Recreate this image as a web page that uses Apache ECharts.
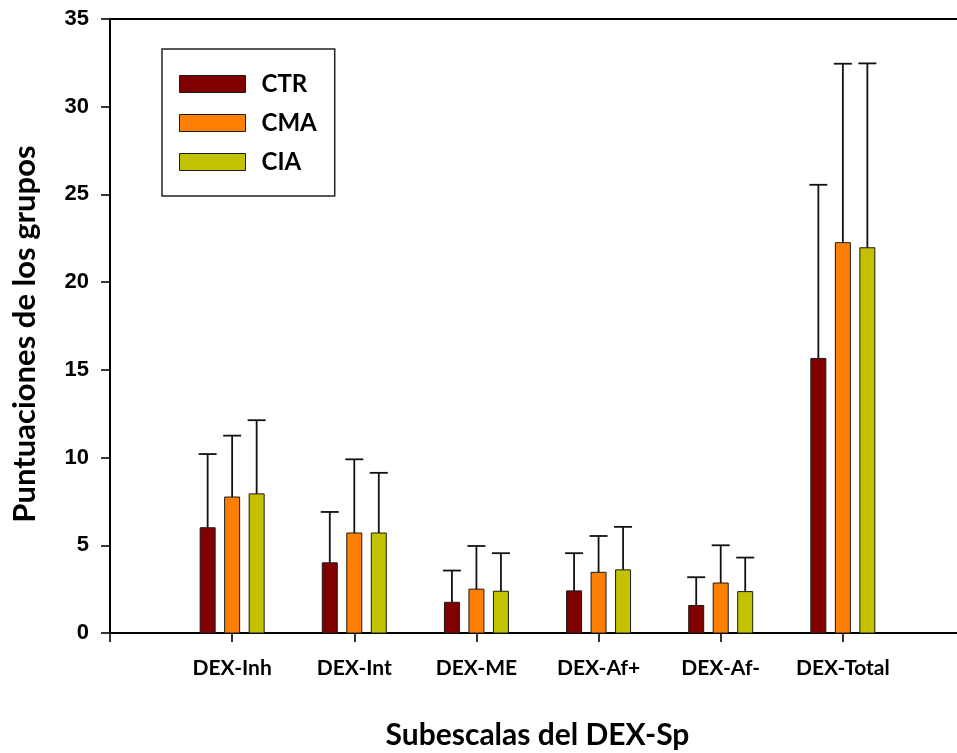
<!DOCTYPE html>
<html>
<head>
<meta charset="utf-8">
<script src="https://cdn.jsdelivr.net/npm/echarts@6/dist/echarts.min.js"></script>
<style>
  html, body { margin: 0; padding: 0; background: #fff; }
  #chart { width: 957px; height: 753px; }
</style>
</head>
<body>
<div id="chart"></div>
<script>
// DEX-Sp subscales: group means and standard deviations
const categories = ['DEX-Inh', 'DEX-Int', 'DEX-ME', 'DEX-Af+', 'DEX-Af-', 'DEX-Total'];
const groups = ['CTR', 'CMA', 'CIA'];

const ctrMean = [6.0, 4.0, 1.75, 2.4, 1.57, 15.65];
const ctrSD   = [4.2, 2.9, 1.81, 2.15, 1.61, 9.9];
const cmaMean = [7.75, 5.7, 2.5, 3.46, 2.85, 22.25];
const cmaSD   = [3.5, 4.2, 2.46, 2.07, 2.15, 10.2];
const ciaMean = [7.93, 5.7, 2.38, 3.6, 2.36, 21.96];
const ciaSD   = [4.2, 3.43, 2.17, 2.45, 1.94, 10.51];

const yTicks = [0, 5, 10, 15, 20, 25, 30, 35];

const colors = { CTR: '#800000', CMA: '#ff8000', CIA: '#c2c200' };
const means = { CTR: ctrMean, CMA: cmaMean, CIA: ciaMean };
const sds = { CTR: ctrSD, CMA: cmaSD, CIA: ciaSD };

// axis has a blank slot before the first subscale and after the last one
const axisCats = [''].concat(categories, ['']);

const BAR_W = 15;
const CAP_W = 18;
const OFFSETS = { CTR: -24.5, CMA: 0, CIA: 24.5 };

function makeSeries(name) {
  const data = categories.map((c, i) => [i + 1, means[name][i], sds[name][i]]);
  return {
    name: name,
    type: 'custom',
    itemStyle: { color: colors[name], borderColor: '#1a1a1a', borderWidth: 1 },
    data: data,
    renderItem: function (params, api) {
      const x = api.value(0), m = api.value(1), sd = api.value(2);
      const base = api.coord([x, 0]);
      const top = api.coord([x, m]);
      const err = api.coord([x, m + sd]);
      const cx = base[0] + OFFSETS[name];
      return {
        type: 'group',
        children: [
          {
            type: 'rect',
            shape: { x: cx - BAR_W / 2, y: top[1], width: BAR_W, height: base[1] - top[1] },
            style: { fill: colors[name], stroke: '#1a1a1a', lineWidth: 1 }
          },
          {
            type: 'line',
            shape: { x1: cx, y1: top[1], x2: cx, y2: err[1] },
            style: { stroke: '#111', lineWidth: 1.8 }
          },
          {
            type: 'line',
            shape: { x1: cx - CAP_W / 2, y1: err[1], x2: cx + CAP_W / 2, y2: err[1] },
            style: { stroke: '#111', lineWidth: 1.8 }
          }
        ]
      };
    }
  };
}

const chart = echarts.init(document.getElementById('chart'), null, { renderer: 'canvas' });

chart.setOption({
  animation: false,
  backgroundColor: '#fff',
  grid: {
    left: 110, top: 19, right: -8, bottom: 120,
    show: true, borderColor: '#000', borderWidth: 2,
    containLabel: false, outerBoundsMode: 'none'
  },
  legend: {
    data: groups,
    orient: 'vertical',
    left: 162, top: 49,
    icon: 'rect',
    itemWidth: 66, itemHeight: 17, itemGap: 15,
    padding: [23, 18, 22, 17],
    borderColor: '#222', borderWidth: 1.5,
    itemStyle: { borderColor: '#1a1a1a', borderWidth: 1 },
    textStyle: {
      fontFamily: 'Lato', fontWeight: 'bold', fontSize: 24, color: '#000',
      padding: [0, 0, 0, 11]
    },
    selectedMode: false
  },
  xAxis: {
    type: 'category',
    data: axisCats,
    boundaryGap: false,
    name: 'Subescalas del DEX-Sp',
    nameLocation: 'middle',
    nameGap: 87,
    nameTextStyle: { fontFamily: 'Lato', fontWeight: 'bold', fontSize: 30, color: '#000' },
    axisLine: { lineStyle: { color: '#000', width: 2.2 } },
    axisTick: { show: true, inside: false, length: 9, interval: 0, lineStyle: { color: '#000', width: 1.6 } },
    axisLabel: { interval: 0, margin: 25, fontFamily: 'Lato', fontWeight: 'bold', fontSize: 21, color: '#000' },
    splitLine: { show: false }
  },
  yAxis: {
    type: 'value',
    min: yTicks[0], max: yTicks[yTicks.length - 1], interval: 5,
    name: 'Puntuaciones de los grupos',
    nameLocation: 'middle',
    nameGap: 70,
    nameRotate: 90,
    nameTextStyle: {
      fontFamily: 'Lato', fontWeight: 'bold', fontSize: 31, color: '#000',
      padding: [0, 16, 0, 0]
    },
    axisLine: { show: true, lineStyle: { color: '#000', width: 2 } },
    axisTick: { show: true, inside: false, length: 9, lineStyle: { color: '#000', width: 1.6 } },
    axisLabel: { margin: 21, fontFamily: 'Liberation Sans', fontWeight: 'bold', fontSize: 22, color: '#000' },
    splitLine: { show: false }
  },
  series: groups.map(makeSeries)
});
</script>
</body>
</html>
